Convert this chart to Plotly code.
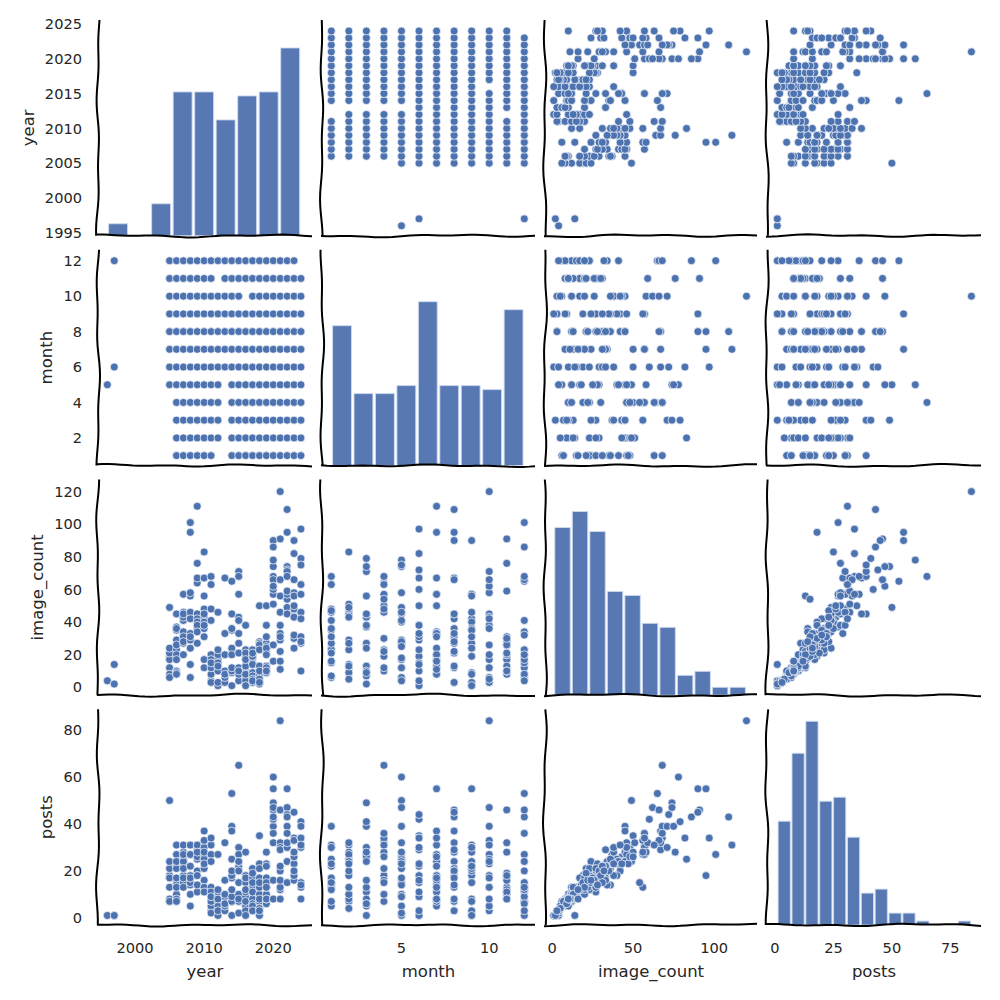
import math
import plotly.graph_objects as go

# Table columns, one entry per record
year = (
    [1996] + [1997, 1997]
    + [2005] * 8 + [2006] * 12 + [2007] * 12 + [2008] * 12 + [2009] * 12 + [2010] * 12 + [2011] * 12
    + [2012] * 10 + [2013] * 7 + [2014] * 12 + [2015] * 12 + [2016] * 11 + [2017] * 12
    + [2018] * 12 + [2019] * 12 + [2020] * 12 + [2021] * 12 + [2022] * 12 + [2023] * 12 + [2024] * 11
)
month = (
    [5] + [6, 12]
    + [5, 6, 7, 8, 9, 10, 11, 12]
    + [1, 2, 3, 4, 5, 6, 7, 8, 9, 10, 11, 12] * 6
    + [2, 3, 4, 5, 6, 7, 8, 9, 10, 12]
    + [6, 7, 8, 9, 10, 11, 12]
    + [1, 2, 3, 4, 5, 6, 7, 8, 9, 10, 11, 12] * 2
    + [1, 2, 3, 4, 5, 6, 7, 8, 9, 11, 12]
    + [1, 2, 3, 4, 5, 6, 7, 8, 9, 10, 11, 12] * 7
    + [1, 2, 3, 4, 5, 6, 7, 8, 9, 10, 11]
)
image_count = [
    4, 2, 14,
    49, 19, 17, 21, 24, 12, 8, 6,
    35, 45, 37, 10, 29, 23, 20, 36, 9, 17, 26, 8,
    41, 46, 43, 30, 27, 33, 34, 31, 57, 45, 28, 20,
    24, 14, 56, 46, 6, 29, 33, 95, 42, 58, 31, 101,
    36, 45, 27, 64, 45, 67, 111, 42, 40, 38, 76, 34,
    48, 83, 43, 56, 40, 31, 67, 45, 36, 38, 17, 12,
    63, 48, 13, 68, 41, 4, 8, 12, 3, 20, 17, 15,
    12, 10, 46, 17, 15, 20, 13, 1, 3, 23,
    10, 33, 67, 3, 6, 20, 8,
    23, 9, 45, 10, 12, 1, 24, 45, 35, 36, 20, 65,
    21, 12, 71, 68, 4, 33, 57, 27, 8, 43, 10, 41,
    6, 23, 38, 19, 12, 4, 8, 21, 1, 13, 17,
    15, 9, 7, 23, 18, 14, 20, 3, 19, 5, 21, 4,
    7, 5, 2, 12, 28, 50, 13, 3, 27, 26, 10, 23,
    27, 13, 9, 50, 25, 38, 31, 22, 24, 12, 10, 20,
    68, 51, 74, 57, 78, 60, 16, 66, 90, 62, 26, 86,
    16, 29, 56, 22, 46, 38, 11, 33, 31, 120, 91, 66,
    46, 49, 45, 54, 74, 72, 95, 109, 57, 71, 59, 68,
    47, 43, 24, 48, 58, 82, 50, 90, 56, 66, 30, 32,
    31, 27, 79, 63, 75, 97, 57, 28, 46, 42, 10,
]
posts = [
    1, 1, 1,
    50, 18, 17, 21, 24, 13, 8, 7,
    22, 31, 27, 10, 21, 15, 14, 24, 8, 13, 17, 7,
    25, 28, 26, 18, 15, 23, 24, 21, 31, 27, 17, 13,
    14, 10, 27, 31, 5, 15, 17, 18, 22, 31, 17, 27,
    14, 25, 11, 31, 26, 29, 31, 20, 18, 18, 28, 14,
    30, 25, 26, 33, 25, 16, 37, 28, 21, 23, 13, 11,
    31, 27, 8, 34, 24, 3, 5, 7, 2, 13, 11, 9,
    7, 5, 27, 10, 9, 11, 8, 1, 3, 12,
    9, 16, 32, 3, 5, 10, 6,
    17, 7, 39, 7, 9, 1, 18, 37, 20, 25, 12, 53,
    15, 10, 30, 65, 2, 22, 27, 20, 7, 24, 8, 24,
    5, 18, 28, 15, 9, 3, 7, 17, 1, 11, 12,
    13, 8, 6, 21, 14, 11, 17, 3, 15, 5, 19, 3,
    7, 4, 1, 10, 23, 35, 13, 3, 21, 17, 8, 15,
    17, 10, 6, 28, 17, 23, 22, 13, 15, 8, 8, 13,
    39, 32, 49, 36, 60, 42, 8, 46, 55, 47, 16, 43,
    12, 20, 13, 16, 32, 30, 8, 29, 22, 84, 46, 46,
    30, 24, 24, 15, 47, 44, 55, 43, 30, 39, 32, 36,
    23, 23, 16, 26, 28, 34, 26, 45, 28, 33, 18, 20,
    15, 13, 41, 31, 39, 34, 34, 14, 30, 31, 8,
]

columns = ["year", "month", "image_count", "posts"]
series = {"year": year, "month": month, "image_count": image_count, "posts": posts}

x_ticks = {
    "year": [2000, 2010, 2020],
    "month": [5, 10],
    "image_count": [0, 50, 100],
    "posts": [0, 25, 50, 75],
}
y_ticks = {
    "year": [1995, 2000, 2005, 2010, 2015, 2020, 2025],
    "month": [2, 4, 6, 8, 10, 12],
    "image_count": [0, 20, 40, 60, 80, 100, 120],
    "posts": [0, 20, 40, 60, 80],
}
x_range = {"year": [1994.65, 2025.6], "month": [0.47, 12.61], "image_count": [-4.4, 126.5], "posts": [-3.4, 88.1]}
y_range = {"year": [1994.57, 2025.58], "month": [0.44, 12.62], "image_count": [-4.9, 127.4], "posts": [-3.1, 88.9]}
bin_counts = {"year": 9, "month": 9, "image_count": 11, "posts": 14}
hist_top = 54

col_px = [(98, 312), (322, 535), (545, 757), (767, 981)]
row_px = [(19, 235), (249, 465), (479, 695), (709, 925)]
BLUE = "#4c72b0"
BAR = "#5878b3"
TEXT = "#262626"
FONT = "DejaVu Sans"

fig = go.Figure()
layout = {}
shapes = []


def wobble(i, t):
    return (1.0 * math.sin(t * 9.1 + i * 1.7) + 0.7 * math.sin(t * 21.3 + i * 2.9) + 0.4 * math.sin(t * 4.3 + i))


def fy(p):
    """Vertical pixel position as a fraction of the figure, measured from the bottom."""
    return 1 - (p - 4) / 991


for r, ry in enumerate(columns):
    for c, cx in enumerate(columns):
        n = r * 4 + c + 1
        suf = "" if n == 1 else str(n)
        xa, ya = "x" + suf, "y" + suf
        x0, x1 = col_px[c]
        y0, y1 = row_px[r]
        if r == c:
            lo, hi = min(series[cx]), max(series[cx])
            size = (hi - lo) / bin_counts[cx] * 1.00001
            hist_y = ya
            if n == 1:
                # The top-left panel shows counts but its left axis is labelled with years.
                hist_y = "y17"
                layout["yaxis17"] = dict(domain=[fy(y1), fy(y0)], range=[0, hist_top],
                                         overlaying="y", anchor="x", visible=False)
                fig.add_trace(go.Scatter(x=series[cx], y=series[cx], xaxis=xa, yaxis=ya, mode="markers",
                                         marker=dict(opacity=0), showlegend=False, hoverinfo="skip"))
            fig.add_trace(go.Histogram(
                x=series[cx], xaxis=xa, yaxis=hist_y,
                autobinx=False, xbins=dict(start=lo, end=hi + 1, size=size),
                marker=dict(color=BAR, line=dict(color="rgba(205,218,238,0.9)", width=1)),
                showlegend=False, hoverinfo="skip",
            ))
        else:
            fig.add_trace(go.Scatter(
                x=series[cx], y=series[ry], xaxis=xa, yaxis=ya, mode="markers",
                marker=dict(color=BLUE, size=8, line=dict(color="white", width=0.7)),
                showlegend=False, hoverinfo="skip",
            ))
        xaxis = dict(
            domain=[x0 / 1000, x1 / 1000], range=x_range[cx], anchor=ya, showgrid=False, zeroline=False,
            showline=False, ticks="", tickfont=dict(family=FONT, size=14.6, color=TEXT),
            tickvals=x_ticks[cx] if r == 3 else [], ticklabelstandoff=12,
        )
        yaxis = dict(
            domain=[fy(y1), fy(y0)], anchor=xa, showgrid=False, zeroline=False,
            showline=False, ticks="", tickfont=dict(family=FONT, size=14.6, color=TEXT),
            ticklabelstandoff=15,
        )
        if r == c and n != 1:
            yaxis.update(range=[0, hist_top], tickvals=[])
        else:
            yaxis.update(range=y_range[ry], tickvals=y_ticks[ry] if c == 0 else [])
        if r == 3:
            xaxis["title"] = dict(text=cx, font=dict(family=FONT, size=16.5, color=TEXT), standoff=10)
        if c == 0:
            yaxis["title"] = dict(text=ry, font=dict(family=FONT, size=16.5, color=TEXT), standoff=6)
        layout["xaxis" + suf] = xaxis
        layout["yaxis" + suf] = yaxis

        # hand-drawn looking spines
        m = 36
        left = "M " + " L ".join(
            f"{(x0 + wobble(n, k / m)) / 1000:.5f},{fy(y0 + (y1 - y0) * k / m):.5f}" for k in range(m + 1))
        bottom = "M " + " L ".join(
            f"{(x0 - 1 + (x1 - x0 + 1) * k / m) / 1000:.5f},{fy(y1 + 0.8 * wobble(n + 5, k / m)):.5f}" for k in range(m + 1))
        for p in (left, bottom):
            shapes.append(dict(type="path", path=p, xref="paper", yref="paper",
                               line=dict(color="black", width=2), layer="above"))

fig.update_layout(
    width=1000, height=1000, margin=dict(l=0, r=0, t=0, b=0), autosize=False,
    paper_bgcolor="white", plot_bgcolor="white", shapes=shapes, bargap=0.12, **layout,
)
fig.write_html("out.html", post_script="document.body.style.margin='0';", config=dict(displayModeBar=False))
